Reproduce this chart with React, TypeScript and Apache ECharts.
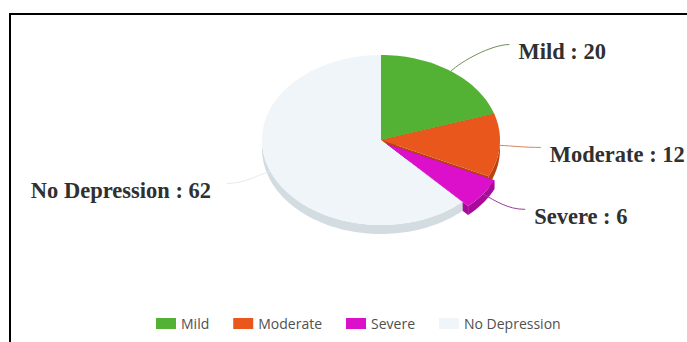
import React, { useEffect, useRef } from 'react';
import * as echarts from 'echarts';

const categories = ['Mild', 'Moderate', 'Severe', 'No Depression'];
const values = [20, 12, 6, 62];
const topColors = ['#53b234', '#e9571c', '#dc10cb', '#eff5f9'];
const sideColors = ['#3f8a26', '#b9420f', '#a80a9a', '#d3dce1'];
const connectorColors = ['#708f5c', '#d0875f', '#9a3f98', '#e3eaee'];
const exploded = [false, false, true, false];

const CX = 381, CY = 140, RX = 119, RY = 85, DEPTH = 9, EXPLODE = 7;
const LABEL_R = 160, LABEL_RY = 118;

const total = values.reduce((a, b) => a + b, 0);
const startAngles: number[] = [];
const endAngles: number[] = [];
{
  let acc = 0;
  values.forEach((v) => {
    startAngles.push((acc / total) * 2 * Math.PI);
    acc += v;
    endAngles.push((acc / total) * 2 * Math.PI);
  });
}

function pt(t: number, dx: number, dy: number, down: number): number[] {
  return [CX + dx + RX * Math.sin(t), CY + dy - RY * Math.cos(t) + down];
}
function arc(a: number, b: number, dx: number, dy: number, down: number): number[][] {
  const n = Math.max(2, Math.ceil(((b - a) / (2 * Math.PI)) * 180));
  const out: number[][] = [];
  for (let k = 0; k <= n; k++) out.push(pt(a + ((b - a) * k) / n, dx, dy, down));
  return out;
}

function renderItem(params: any) {
  const i = params.dataIndex;
  const a = startAngles[i], b = endAngles[i], m = (a + b) / 2;
  const off = exploded[i] ? EXPLODE : 0;
  const dx = off * Math.sin(m), dy = -off * Math.cos(m);
  const base = exploded[i] ? 2 : 0;
  const children: any[] = [];
  const c = [CX + dx, CY + dy];
  for (const ang of [a, b]) {
    const p = pt(ang, dx, dy, 0);
    children.push({
      type: 'polygon',
      shape: { points: [c, p, [p[0], p[1] + DEPTH], [c[0], c[1] + DEPTH]] },
      style: { fill: sideColors[i] },
      z2: 0,
    });
  }
  const wa = Math.max(a, Math.PI / 2), wb = Math.min(b, (3 * Math.PI) / 2);
  if (wb > wa) {
    const top = arc(wa, wb, dx, dy, 0);
    const bottom = arc(wa, wb, dx, dy, DEPTH).reverse();
    children.push({
      type: 'polygon',
      shape: { points: top.concat(bottom) },
      style: { fill: sideColors[i] },
      z2: base,
    });
  }
  children.push({
    type: 'polygon',
    shape: { points: [c, ...arc(a, b, dx, dy, 0)] },
    style: { fill: topColors[i] },
    z2: base + 1,
  });

  // connector + label
  const s = pt(m, dx, dy, 0);
  const side = Math.sin(m) >= 0 ? 1 : -1;
  const ay = CY - Math.cos(m) * LABEL_RY;
  const ax = CX + side * Math.sqrt(LABEL_R * LABEL_R - (ay - CY) * (ay - CY));
  const dirx = Math.sin(m), diry = -Math.cos(m) * (RY / RX);
  const dl = Math.hypot(dirx, diry);
  children.push({
    type: 'bezierCurve',
    shape: {
      x1: s[0], y1: s[1],
      cpx1: s[0] + (dirx / dl) * 14, cpy1: s[1] + (diry / dl) * 14,
      cpx2: ax - side * 18, cpy2: ay,
      x2: ax, y2: ay,
    },
    style: { stroke: connectorColors[i], lineWidth: 1, fill: null },
    z2: 10,
  });
  children.push({
    type: 'text',
    x: side > 0 ? ax + 9 : ax - 16,
    y: ay + 7,
    style: {
      text: `${categories[i]} : ${values[i]}`,
      fill: '#303030',
      font: 'bold 22.5px "Liberation Serif", "Times New Roman", serif',
      align: side > 0 ? 'left' : 'right',
      verticalAlign: 'middle',
    },
    z2: 10,
  });
  return { type: 'group', children };
}

export default function App() {
  const ref = useRef<HTMLDivElement>(null);
  useEffect(() => {
    const chart = echarts.init(ref.current!, null, { renderer: 'svg' });
    chart.setOption({
      animation: false,
      backgroundColor: '#ffffff',
      legend: {
        data: categories,
        icon: 'rect',
        itemWidth: 20,
        itemHeight: 11,
        itemGap: 24,
        padding: 0,
        left: 156,
        top: 316.5,
        textStyle: { fontFamily: '"Open Sans", sans-serif', fontSize: 14, color: '#505050' },
      },
      graphic: [
        {
          type: 'polyline',
          shape: { points: [[10, 342], [10, 14], [687, 14]] },
          style: { stroke: '#000000', lineWidth: 2, fill: null },
        },
      ],
      series: [
        {
          type: 'pie',
          radius: [0, 0],
          silent: true,
          label: { show: false },
          labelLine: { show: false },
          data: categories.map((n, i) => ({ name: n, value: values[i], itemStyle: { color: topColors[i] } })),
        },
        {
          type: 'custom',
          coordinateSystem: 'none',
          renderItem,
          silent: true,
          data: values.map((v, i) => ({ name: categories[i], value: v })),
        },
      ],
    });
    return () => chart.dispose();
  }, []);
  return <div ref={ref} style={{ position: 'absolute', left: 0, top: 0, width: 687, height: 342 }} />;
}
